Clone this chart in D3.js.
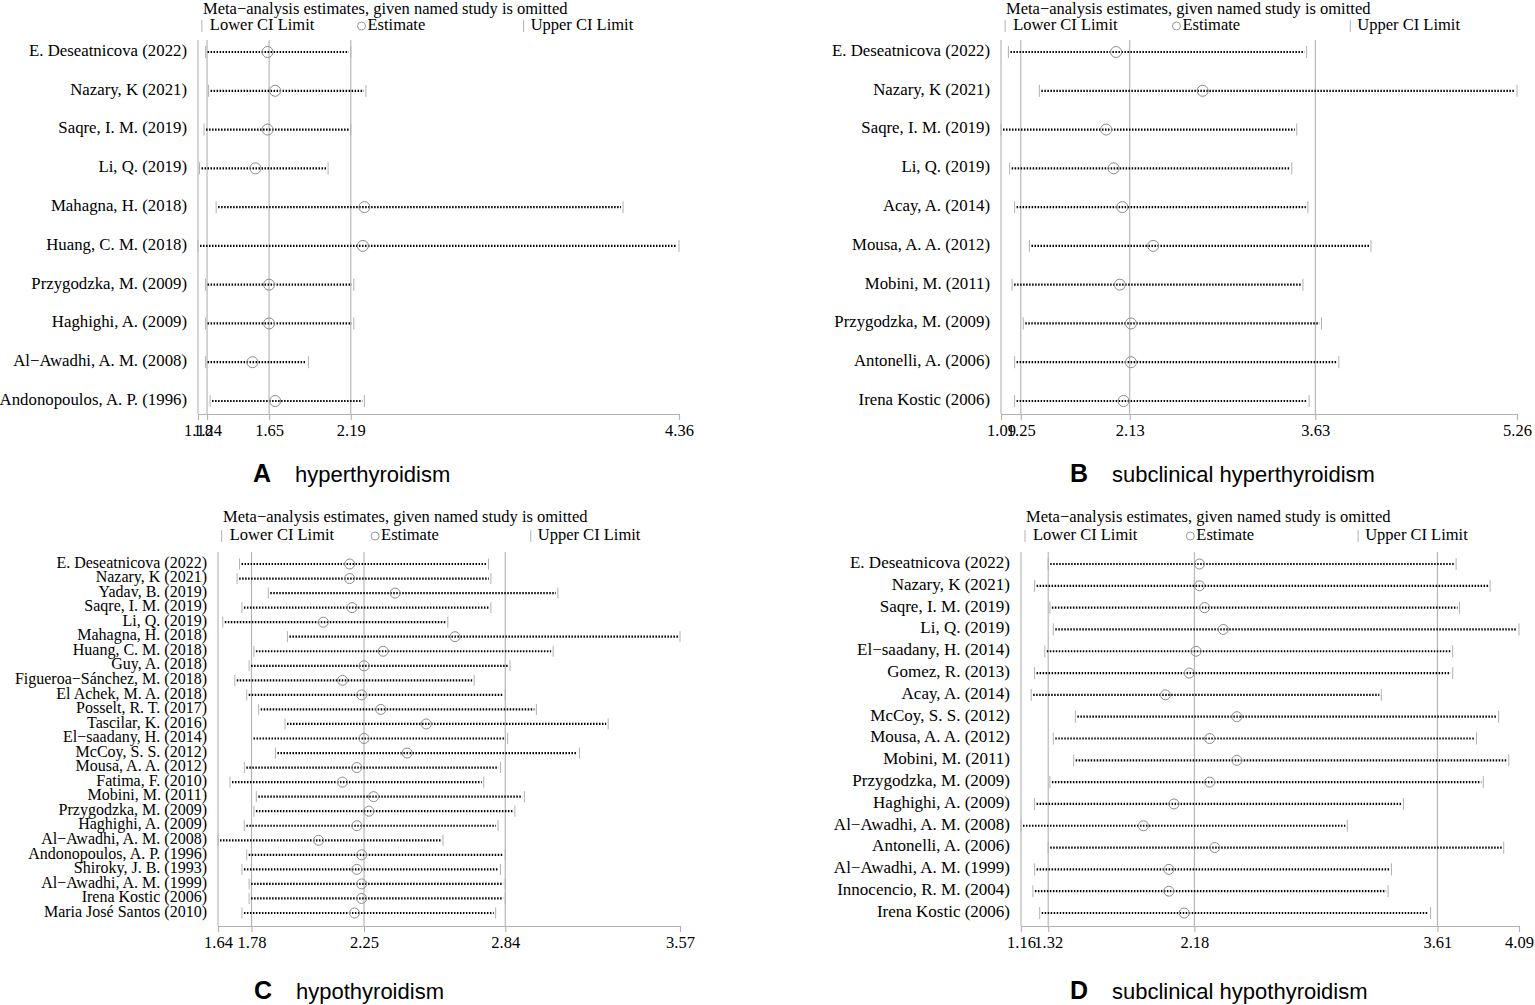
<!DOCTYPE html>
<html>
<head>
<meta charset="utf-8">
<script src="https://cdn.jsdelivr.net/npm/d3@7"></script>
<style>
  body { margin: 0; background: #fff; }
  .serif { font-family: "Liberation Serif", "Times New Roman", serif; }
  .sans { font-family: "Liberation Sans", Arial, sans-serif; }
</style>
</head>
<body>
<svg id="chart" width="1535" height="1005"></svg>
<script>
// ---- A: hyperthyroidism
const studiesA = ["E. Deseatnicova (2022)", "Nazary, K (2021)", "Saqre, I. M. (2019)", "Li, Q. (2019)",
  "Mahagna, H. (2018)", "Huang, C. M. (2018)", "Przygodzka, M. (2009)", "Haghighi, A. (2009)",
  "Al\u2212Awadhi, A. M. (2008)", "Andonopoulos, A. P. (1996)"];
const lowerA = [1.23, 1.25, 1.22, 1.19, 1.30, 1.18, 1.23, 1.23, 1.23, 1.26];
const estA   = [1.64, 1.69, 1.64, 1.56, 2.28, 2.27, 1.65, 1.65, 1.54, 1.69];
const upperA = [2.19, 2.29, 2.19, 2.04, 3.99, 4.36, 2.21, 2.21, 1.91, 2.28];
const ticksA = [1.18, 1.24, 1.65, 2.19, 4.36];

// ---- B: subclinical hyperthyroidism
const studiesB = ["E. Deseatnicova (2022)", "Nazary, K (2021)", "Saqre, I. M. (2019)", "Li, Q. (2019)",
  "Acay, A. (2014)", "Mousa, A. A. (2012)", "Mobini, M. (2011)", "Przygodzka, M. (2009)",
  "Antonelli, A. (2006)", "Irena Kostic (2006)"];
const lowerB = [1.15, 1.40, 1.09, 1.16, 1.20, 1.32, 1.18, 1.27, 1.20, 1.20];
const estB   = [2.02, 2.72, 1.94, 2.00, 2.07, 2.32, 2.05, 2.14, 2.14, 2.08];
const upperB = [3.56, 5.26, 3.48, 3.44, 3.57, 4.08, 3.53, 3.68, 3.82, 3.58];
const ticksB = [1.09, 1.25, 2.13, 3.63, 5.26];

// ---- C: hypothyroidism
const studiesC = ["E. Deseatnicova (2022)", "Nazary, K (2021)", "Yadav, B. (2019)", "Saqre, I. M. (2019)",
  "Li, Q. (2019)", "Mahagna, H. (2018)", "Huang, C. M. (2018)", "Guy, A. (2018)",
  "Figueroa\u2212Sánchez, M. (2018)", "El Achek, M. A. (2018)", "Posselt, R. T. (2017)", "Tascilar, K. (2016)",
  "El\u2212saadany, H. (2014)", "McCoy, S. S. (2012)", "Mousa, A. A. (2012)", "Fatima, F. (2010)",
  "Mobini, M. (2011)", "Przygodzka, M. (2009)", "Haghighi, A. (2009)", "Al\u2212Awadhi, A. M. (2008)",
  "Andonopoulos, A. P. (1996)", "Shiroky, J. B. (1993)", "Al\u2212Awadhi, A. M. (1999)", "Irena Kostic (2006)",
  "Maria José Santos (2010)"];
const lowerC = [1.73, 1.72, 1.85, 1.74, 1.66, 1.93, 1.79, 1.77, 1.71, 1.76, 1.81, 1.92, 1.78,
  1.88, 1.75, 1.69, 1.80, 1.79, 1.75, 1.64, 1.76, 1.74, 1.77, 1.77, 1.74];
const estC   = [2.19, 2.19, 2.38, 2.20, 2.08, 2.63, 2.33, 2.25, 2.16, 2.24, 2.32, 2.51, 2.25,
  2.43, 2.22, 2.16, 2.29, 2.27, 2.22, 2.06, 2.24, 2.22, 2.24, 2.24, 2.21];
const upperC = [2.77, 2.78, 3.06, 2.78, 2.60, 3.57, 3.04, 2.86, 2.71, 2.84, 2.97, 3.27, 2.85,
  3.15, 2.82, 2.75, 2.92, 2.88, 2.81, 2.58, 2.84, 2.82, 2.84, 2.84, 2.80];
const ticksC = [1.64, 1.78, 2.25, 2.84, 3.57];

// ---- D: subclinical hypothyroidism
const studiesD = ["E. Deseatnicova (2022)", "Nazary, K (2021)", "Saqre, I. M. (2019)", "Li, Q. (2019)",
  "El\u2212saadany, H. (2014)", "Gomez, R. (2013)", "Acay, A. (2014)", "McCoy, S. S. (2012)",
  "Mousa, A. A. (2012)", "Mobini, M. (2011)", "Przygodzka, M. (2009)", "Haghighi, A. (2009)",
  "Al\u2212Awadhi, A. M. (2008)", "Antonelli, A. (2006)", "Al\u2212Awadhi, A. M. (1999)",
  "Innocencio, R. M. (2004)", "Irena Kostic (2006)"];
const lowerD = [1.32, 1.24, 1.33, 1.35, 1.30, 1.24, 1.22, 1.48, 1.35, 1.47, 1.33, 1.24, 1.16,
  1.32, 1.24, 1.23, 1.27];
const estD   = [2.21, 2.21, 2.24, 2.35, 2.19, 2.15, 2.01, 2.43, 2.27, 2.43, 2.27, 2.06, 1.88,
  2.30, 2.03, 2.03, 2.12];
const upperD = [3.72, 3.92, 3.74, 4.09, 3.70, 3.70, 3.28, 3.97, 3.84, 4.03, 3.88, 3.41, 3.08,
  4.00, 3.34, 3.32, 3.57];
const ticksD = [1.16, 1.32, 2.18, 3.61, 4.09];

const legendTitle = "Meta\u2212analysis estimates, given named study is omitted";

const svg = d3.select("#chart");
svg.append("rect").attr("width", 1535).attr("height", 1005).attr("fill", "#fff");

const grey = "#b2b2b2";
const txt = "16.5px";

function drawPanel(p) {
    var g = svg.append("g");
    var x = d3.scaleLinear()
        .domain([p.ticks[0], p.ticks[p.ticks.length - 1]])
        .range([p.x0, p.x1]);
    var y = d3.scalePoint().domain(p.studies).range([p.yFirst, p.yLast]);
    var w = p.x1 - p.x0;

    // legend header
    g.append("text").attr("class", "serif")
        .attr("x", p.x0 + 5).attr("y", p.titleY)
        .attr("dominant-baseline", "middle")
        .style("font-size", txt)
        .text(legendTitle);
    var lx1 = p.x0 + w * 0.008, lx2 = p.x0 + w * 0.34, lx3 = p.x0 + w * 0.677;
    g.append("line").attr("x1", lx1).attr("x2", lx1)
        .attr("y1", p.legendY - 6).attr("y2", p.legendY + 6).attr("stroke", grey);
    g.append("text").attr("class", "serif").attr("x", lx1 + 8).attr("y", p.legendY)
        .attr("dominant-baseline", "middle").style("font-size", txt).text("Lower CI Limit");
    g.append("circle").attr("cx", lx2).attr("cy", p.legendY).attr("r", 4)
        .attr("fill", "none").attr("stroke", "#999");
    g.append("text").attr("class", "serif").attr("x", lx2 + 6).attr("y", p.legendY)
        .attr("dominant-baseline", "middle").style("font-size", txt).text("Estimate");
    g.append("line").attr("x1", lx3).attr("x2", lx3)
        .attr("y1", p.legendY - 6).attr("y2", p.legendY + 6).attr("stroke", grey);
    g.append("text").attr("class", "serif").attr("x", lx3 + 7).attr("y", p.legendY)
        .attr("dominant-baseline", "middle").style("font-size", txt).text("Upper CI Limit");

    // vertical reference lines: axis min, overall lower CI, estimate, overall upper CI
    g.selectAll(".ref").data(p.ticks.slice(0, 4)).enter().append("line")
        .attr("x1", d => x(d)).attr("x2", d => x(d))
        .attr("y1", p.yTop).attr("y2", p.axisY)
        .attr("stroke", grey).attr("stroke-width", 1.1);

    // x axis
    var ax = g.append("g")
        .attr("transform", "translate(0," + p.axisY + ")")
        .call(d3.axisBottom(x).tickValues(p.ticks).tickSize(6).tickSizeOuter(6)
            .tickFormat(d3.format(".2f")));
    ax.select(".domain").attr("stroke", grey).attr("stroke-width", 1.1);
    ax.selectAll(".tick line").attr("stroke", grey).attr("stroke-width", 1.1);
    ax.selectAll(".tick text")
        .attr("class", "serif")
        .attr("fill", "#000")
        .attr("y", p.tickLabelDy)
        .style("font-size", txt);

    // study labels
    g.selectAll(".lab").data(p.studies).enter().append("text")
        .attr("class", "serif")
        .attr("x", p.x0 - 11).attr("y", d => y(d))
        .attr("text-anchor", "end").attr("dominant-baseline", "middle")
        .style("font-size", p.labelSize + "px")
        .text(d => d);

    // CI rows
    var rows = p.studies.map((s, i) => ({ s: s, lo: p.lower[i], est: p.est[i], hi: p.upper[i] }));
    var r = g.selectAll(".row").data(rows).enter().append("g");
    r.append("line")
        .attr("x1", d => x(d.lo) + 2).attr("x2", d => x(d.hi) - 2)
        .attr("y1", d => y(d.s)).attr("y2", d => y(d.s))
        .attr("stroke", "#000").attr("stroke-width", 2.2)
        .attr("stroke-dasharray", "1.5,1.5");
    r.append("line")
        .attr("x1", d => x(d.lo)).attr("x2", d => x(d.lo))
        .attr("y1", d => y(d.s) - p.cap).attr("y2", d => y(d.s) + p.cap)
        .attr("stroke", grey);
    r.append("line")
        .attr("x1", d => x(d.hi)).attr("x2", d => x(d.hi))
        .attr("y1", d => y(d.s) - p.cap).attr("y2", d => y(d.s) + p.cap)
        .attr("stroke", grey);
    r.append("circle")
        .attr("cx", d => x(d.est)).attr("cy", d => y(d.s)).attr("r", p.rad)
        .attr("fill", "none").attr("stroke", "#8c8c8c").attr("stroke-width", 1);

    // panel caption
    g.append("text").attr("class", "sans")
        .attr("x", p.capX).attr("y", p.capY)
        .style("font-size", "25px").style("font-weight", "bold")
        .text(p.letter);
    g.append("text").attr("class", "sans")
        .attr("x", p.capX + 42).attr("y", p.capY)
        .style("font-size", "22px")
        .text(p.caption);
}

drawPanel({ studies: studiesA, lower: lowerA, est: estA, upper: upperA, ticks: ticksA,
    x0: 198, x1: 679, yFirst: 52, yLast: 401, yTop: 40, axisY: 414, titleY: 10, legendY: 26,
    tickLabelDy: 10, labelSize: 16.8, cap: 6, rad: 5.5, letter: "A", caption: "hyperthyroidism",
    capX: 253, capY: 482 });

drawPanel({ studies: studiesB, lower: lowerB, est: estB, upper: upperB, ticks: ticksB,
    x0: 1001, x1: 1517, yFirst: 52, yLast: 401, yTop: 40, axisY: 414, titleY: 10, legendY: 26,
    tickLabelDy: 10, labelSize: 16.8, cap: 6, rad: 5.5, letter: "B", caption: "subclinical hyperthyroidism",
    capX: 1070, capY: 482 });

drawPanel({ studies: studiesC, lower: lowerC, est: estC, upper: upperC, ticks: ticksC,
    x0: 218, x1: 680, yFirst: 564, yLast: 913, yTop: 552, axisY: 926, titleY: 518, legendY: 536,
    tickLabelDy: 10, labelSize: 16, cap: 5.5, rad: 5, letter: "C", caption: "hypothyroidism",
    capX: 254, capY: 999 });

drawPanel({ studies: studiesD, lower: lowerD, est: estD, upper: upperD, ticks: ticksD,
    x0: 1021, x1: 1519, yFirst: 564, yLast: 913, yTop: 552, axisY: 926, titleY: 518, legendY: 536,
    tickLabelDy: 10, labelSize: 17, cap: 6, rad: 5, letter: "D", caption: "subclinical hypothyroidism",
    capX: 1070, capY: 999 });
</script>
</body>
</html>
